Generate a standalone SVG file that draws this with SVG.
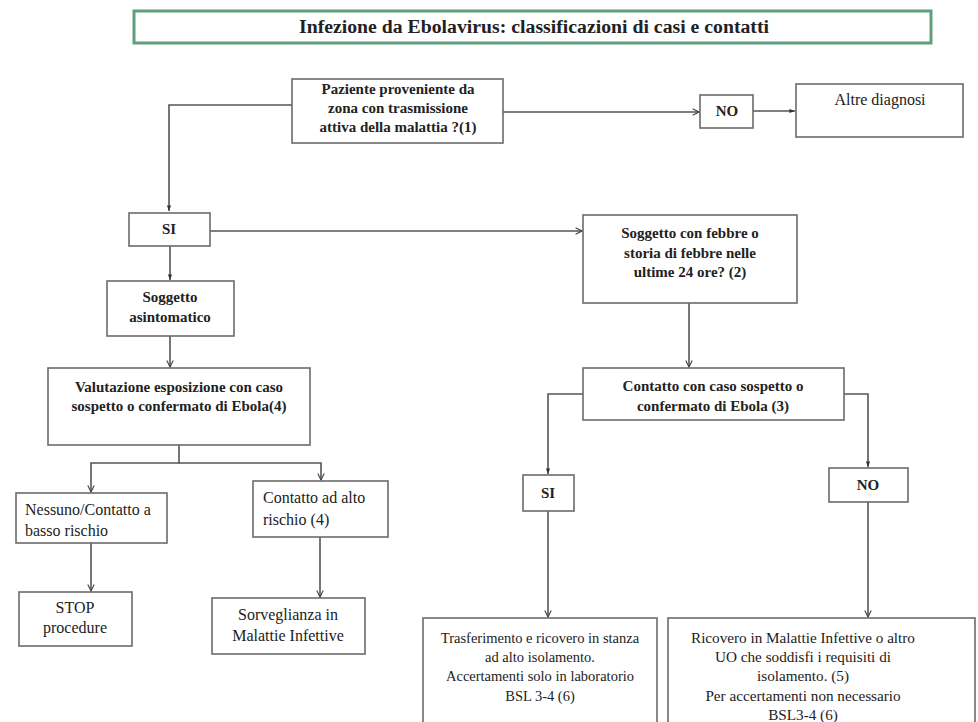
<svg xmlns="http://www.w3.org/2000/svg" width="978" height="722" viewBox="0 0 978 722">
<defs>
<marker id="open" viewBox="0 0 10 10" refX="9" refY="5" markerWidth="8" markerHeight="8" markerUnits="userSpaceOnUse" orient="auto">
<path d="M1,1 L9,5 L1,9" fill="none" stroke="#444" stroke-width="1.4"/>
</marker>
<marker id="fill" viewBox="0 0 10 10" refX="9" refY="5" markerWidth="7" markerHeight="7" markerUnits="userSpaceOnUse" orient="auto">
<path d="M1,2 L9,5 L1,8 Z" fill="#333"/>
</marker>
<style>
.box{fill:#fff;stroke:#6b6b6b;stroke-width:1.6}
.title{fill:#fff;stroke:#5f9e7f;stroke-width:3}
.c{fill:none;stroke:#555;stroke-width:1.6}
.b{font-family:"Liberation Serif","Times New Roman",serif;font-weight:bold;font-size:15px;fill:#222;text-anchor:middle}
.r{font-family:"Liberation Serif","Times New Roman",serif;font-size:14.5px;fill:#222;text-anchor:middle}
.rr{font-family:"Liberation Serif","Times New Roman",serif;font-size:15.2px;fill:#222;text-anchor:middle}
.rl{font-family:"Liberation Serif","Times New Roman",serif;font-size:16px;fill:#222;text-anchor:middle}
.l{text-anchor:start}
.t{font-family:"Liberation Serif","Times New Roman",serif;font-weight:bold;font-size:18px;fill:#222;text-anchor:middle}
</style>
</defs>
<rect width="978" height="722" fill="#fff"/>

<g id="title">
<rect class="title" x="134" y="11" width="797" height="32"/>
<text class="t" x="534" y="33" textLength="470" lengthAdjust="spacingAndGlyphs">Infezione da Ebolavirus: classificazioni di casi e contatti</text>
</g>

<g id="connectors">
<path class="c" d="M292,105 H169 V211" marker-end="url(#fill)"/>
<path class="c" d="M503,112 H699" marker-end="url(#open)"/>
<path class="c" d="M753,111 H795" marker-end="url(#fill)"/>
<path class="c" d="M210,231 H582" marker-end="url(#open)"/>
<path class="c" d="M170,246 V280" marker-end="url(#fill)"/>
<path class="c" d="M170,336 V367" marker-end="url(#open)"/>
<path class="c" d="M179,445 V463 H91 V492" marker-end="url(#open)"/>
<path class="c" d="M179,463 H321 V480" marker-end="url(#open)"/>
<path class="c" d="M91,543 V591" marker-end="url(#open)"/>
<path class="c" d="M320,537 V597" marker-end="url(#open)"/>
<path class="c" d="M689,303 V367" marker-end="url(#open)"/>
<path class="c" d="M583,394 H548 V474" marker-end="url(#fill)"/>
<path class="c" d="M844,394 H868 V467" marker-end="url(#fill)"/>
<path class="c" d="M548,511 V617" marker-end="url(#open)"/>
<path class="c" d="M868,502 V617" marker-end="url(#open)"/>
</g>

<g id="paziente">
<rect class="box" x="292" y="79" width="211" height="64"/>
<text class="b" x="398" y="94">Paziente proveniente da</text>
<text class="b" x="398" y="113">zona con trasmissione</text>
<text class="b" x="398" y="132">attiva della malattia ?(1)</text>
</g>

<g id="no1">
<rect class="box" x="700" y="95" width="53" height="33"/>
<text class="b" x="727" y="116">NO</text>
</g>

<g id="altre">
<rect class="box" x="796" y="84" width="167" height="53"/>
<text class="rl" x="880" y="105">Altre diagnosi</text>
</g>

<g id="si1">
<rect class="box" x="129" y="213" width="81" height="33"/>
<text class="b" x="169" y="234">SI</text>
</g>

<g id="asintomatico">
<rect class="box" x="107" y="281" width="127" height="55"/>
<text class="b" x="170" y="302">Soggetto</text>
<text class="b" x="170" y="322">asintomatico</text>
</g>

<g id="valutazione">
<rect class="box" x="48" y="368" width="262" height="77"/>
<text class="b" x="179" y="392">Valutazione esposizione con caso</text>
<text class="b" x="179" y="411">sospetto o confermato di Ebola(4)</text>
</g>

<g id="nessuno">
<rect class="box" x="16" y="493" width="151" height="50"/>
<text class="rl l" x="25" y="515">Nessuno/Contatto a</text>
<text class="rl l" x="25" y="536">basso rischio</text>
</g>

<g id="stop">
<rect class="box" x="19" y="592" width="113" height="54"/>
<text class="rl" x="75" y="613">STOP</text>
<text class="rl" x="75" y="633">procedure</text>
</g>

<g id="altorischio">
<rect class="box" x="253" y="481" width="135" height="56"/>
<text class="rl l" x="263" y="503">Contatto ad alto</text>
<text class="rl l" x="263" y="525">rischio (4)</text>
</g>

<g id="sorveglianza">
<rect class="box" x="212" y="598" width="153" height="56"/>
<text class="rl" x="288" y="620">Sorveglianza in</text>
<text class="rl" x="288" y="641">Malattie Infettive</text>
</g>

<g id="febbre">
<rect class="box" x="583" y="215" width="214" height="88"/>
<text class="b" x="690" y="238">Soggetto con febbre o</text>
<text class="b" x="690" y="258">storia di febbre nelle</text>
<text class="b" x="690" y="277">ultime 24 ore? (2)</text>
</g>

<g id="contatto">
<rect class="box" x="583" y="368" width="261" height="52"/>
<text class="b" x="713" y="391">Contatto con caso sospetto o</text>
<text class="b" x="713" y="411">confermato di Ebola (3)</text>
</g>

<g id="si2">
<rect class="box" x="523" y="475" width="51" height="36"/>
<text class="b" x="548" y="498">SI</text>
</g>

<g id="no2">
<rect class="box" x="829" y="468" width="79" height="34"/>
<text class="b" x="868" y="490">NO</text>
</g>

<g id="trasferimento">
<rect class="box" x="423" y="618" width="234" height="110"/>
<text class="r" x="540" y="643">Trasferimento e ricovero in stanza</text>
<text class="r" x="540" y="662">ad alto isolamento.</text>
<text class="r" x="540" y="681">Accertamenti solo in laboratorio</text>
<text class="r" x="540" y="701">BSL 3-4 (6)</text>
</g>

<g id="ricovero">
<rect class="box" x="668" y="618" width="307" height="110"/>
<text class="rr" x="803" y="643">Ricovero in Malattie Infettive o altro</text>
<text class="rr" x="803" y="662">UO che  soddisfi i requisiti di</text>
<text class="rr" x="803" y="681">isolamento. (5)</text>
<text class="rr" x="803" y="701">Per accertamenti non necessario</text>
<text class="rr" x="803" y="720">BSL3-4 (6)</text>
</g>
</svg>
